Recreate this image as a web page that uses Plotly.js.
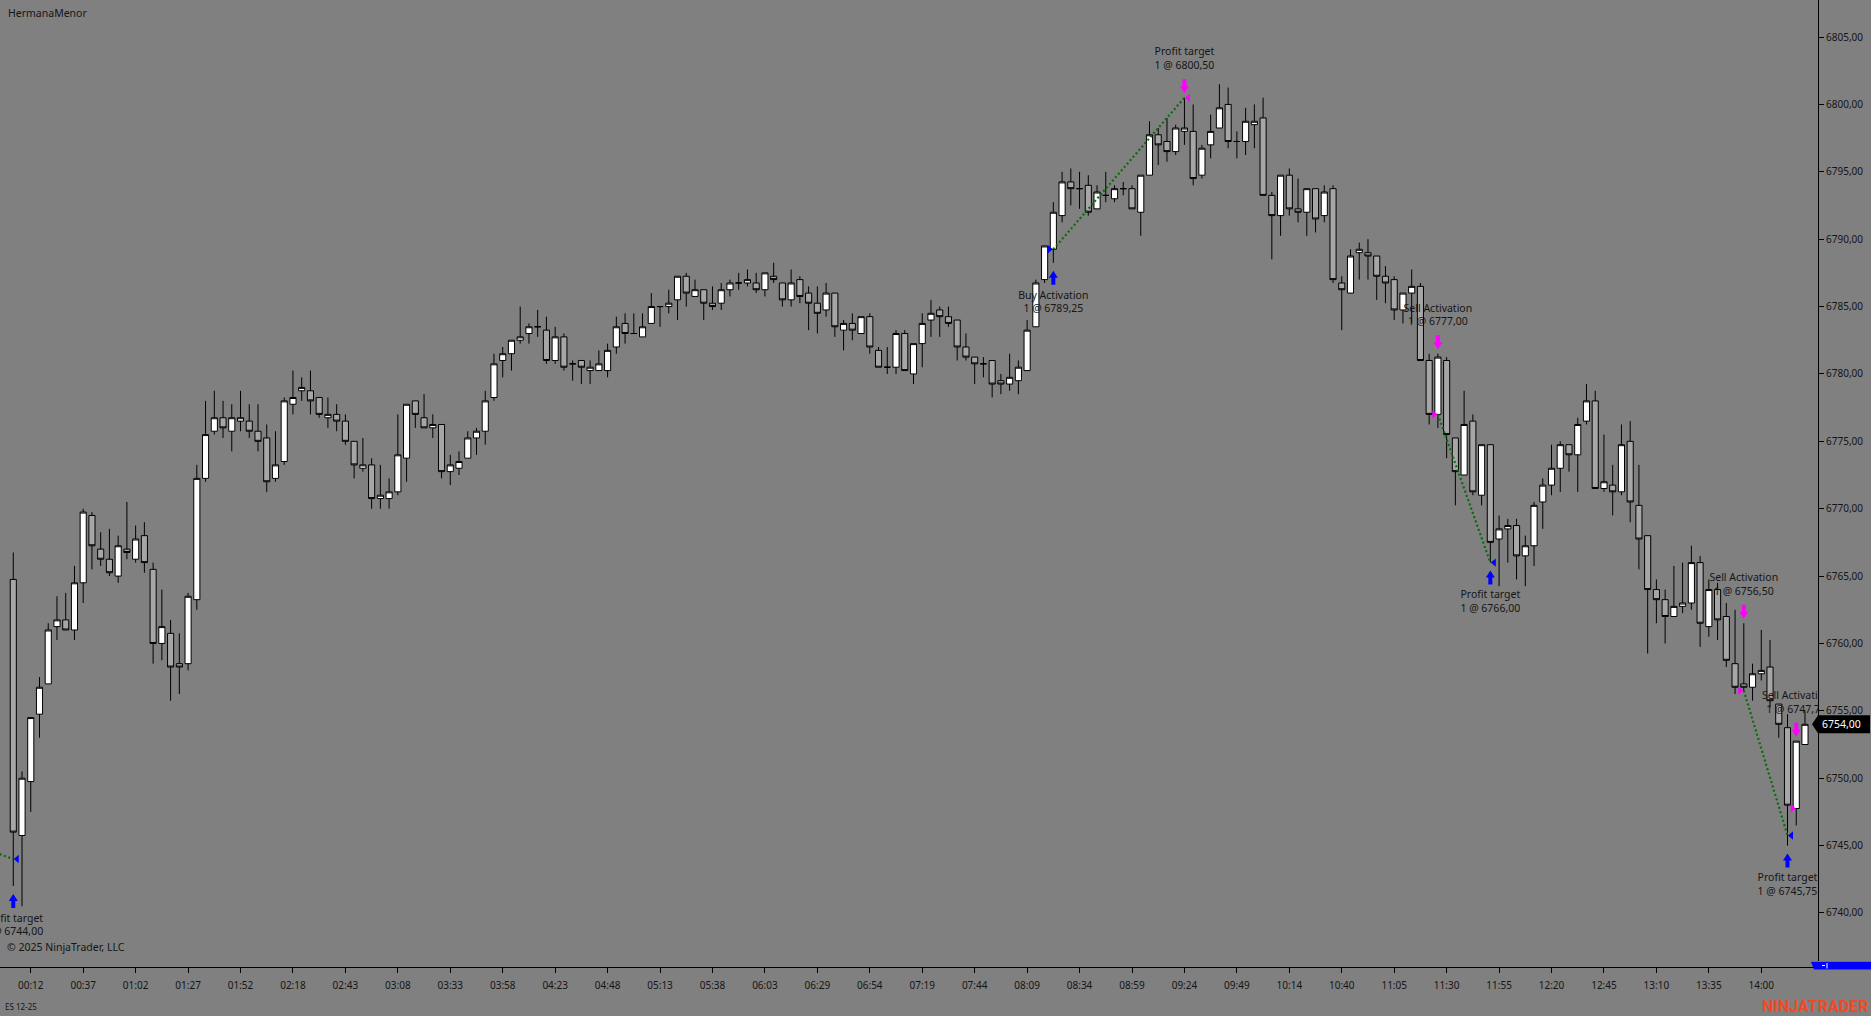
<!DOCTYPE html>
<html>
<head>
<meta charset="utf-8">
<script src="https://cdn.plot.ly/plotly-3.0.1.min.js"></script>
<style>
html,body{margin:0;padding:0;background:#808080;overflow:hidden}
#chart{width:1871px;height:1016px}
</style>
</head>
<body>
<div id="chart"></div>
<script>
// ---------- DATA ----------
const opens = [
6764.75,6745.75,6749.75,6754.75,6757,6761.25,6761.75,6761,6764.5,6769.5,
6767,6766.25,6765,6767,6766.25,6768,6765.5,6760,6760.75,6758.5,
6758.5,6763.25,6772.25,6775.75,6776.75,6775.75,6776.5,6776.5,6775.75,6775.25,
6772.25,6773.5,6777.75,6778.75,6778.75,6778.25,6776.75,6777,6776.5,6775,
6773,6773.25,6770.75,6770.75,6771.25,6773.75,6778,6776.75,6776,6776.25,
6772.75,6773,6773.75,6775.25,6775.75,6778.25,6781,6781.5,6782.5,6783,
6783.5,6783.25,6781,6782.75,6780.75,6781,6780.25,6780.25,6780.25,6782,
6783.75,6783,6782.75,6783.75,6785,6785,6785.5,6787.25,6785.75,6786.25,
6785.25,6785.25,6786.25,6786.75,6786.75,6786.75,6786.25,6787.25,6786.75,6785.5,
6787,6786,6785.25,6784.75,6786,6783.25,6783.75,6783,6784.25,6781.75,
6780.5,6780.5,6783,6780,6782.25,6784,6784.75,6784.25,6784,6782,
6781.25,6780.75,6781,6779.5,6779.25,6779.5,6780.25,6783.5,6787,6789.25,
6791.75,6794.25,6793.75,6794,6792.25,6793.25,6793,6793.75,6793.75,6792,
6794.75,6797.75,6797.25,6796.5,6798,6798,6794.75,6797,6798.25,6800,
6797.25,6797.25,6798.5,6799,6793.25,6791.75,6794.75,6792.25,6792,6793.75,
6791.75,6793.75,6786.75,6786,6789,6789,6788.75,6787.25,6787,6784.75,
6786,6786.5,6781,6777,6781,6775.25,6772.5,6776.5,6771,6774.75,
6767.75,6768.5,6768.75,6766.5,6767.25,6770.5,6771.75,6773,6774.75,6774,
6776.5,6778,6771.5,6771.75,6771.25,6775,6770.25,6768,6764,6763.25,
6762,6762.75,6763,6766,6761.25,6764,6762,6758.5,6757,6756.75,
6757.75,6758.25,6755.5,6753.75,6747.75,6752.5
];
const highs = [
6766.75,6750.5,6754.5,6757.5,6761.5,6763.5,6763.75,6765.75,6770,6769.75,
6768.25,6768.5,6768,6770.5,6768.75,6769,6766,6764,6761.75,6760.75,
6763.75,6773.25,6778,6778.75,6778,6777.75,6778.75,6777.75,6777.75,6776.25,
6775.75,6778.25,6780.25,6779.75,6780.25,6778.25,6778.25,6777.75,6777,6775,
6775.25,6773.75,6773.25,6772.25,6777,6777.75,6778,6778.5,6777,6776.25,
6774,6774.25,6775.75,6776,6778.75,6781.5,6782,6782.5,6785,6783.75,
6784.75,6784.25,6783.5,6783,6781,6781,6781,6781.75,6782.25,6784.25,
6784.5,6784.5,6784.5,6786,6785,6786.25,6787.25,6787.5,6787,6786.25,
6786.5,6786.75,6787,6787.5,6787.75,6787.5,6787.5,6788.25,6786.75,6787.75,
6787.25,6786.5,6786.5,6786.75,6786,6784,6784.5,6784.25,6784.5,6782,
6782,6783.25,6783.25,6782.25,6784.5,6785.5,6785,6785,6784,6783,
6781.25,6781.25,6781,6780,6781.5,6781,6784,6787,6789.5,6792.75,
6795,6795.25,6795,6794.75,6794,6795,6794,6794.25,6794,6794.75,
6798.75,6798.25,6799,6798.5,6800.5,6800,6797,6799.25,6801.5,6801.25,
6798,6799.75,6800,6800.5,6793.5,6794.75,6795.25,6794.5,6793.75,6793.75,
6794,6794,6787.25,6789.25,6789.75,6790,6788.75,6788,6787.25,6786,
6787.75,6786.75,6781.5,6781.5,6781.25,6775.25,6778.75,6777,6774.75,6774.75,
6769.5,6769.25,6769.25,6768,6770.5,6772.25,6774.75,6775,6774.75,6776.75,
6779.25,6778.75,6775.5,6773.25,6776.25,6776.5,6773.25,6768,6764.75,6764,
6765.75,6766,6767.25,6766.5,6764.75,6764.5,6763,6762.5,6761.5,6758.5,
6761,6760.25,6755.5,6754.75,6752.75,6755
];
const lows = [
6742,6740.5,6747.5,6753,6757,6760.25,6761,6760.25,6763,6765.5,
6765.75,6765,6764.5,6766.25,6766,6765.25,6758.5,6758.75,6755.75,6756.25,
6758,6762.5,6772,6775.5,6775.25,6774.25,6775.75,6775.25,6774.25,6771.25,
6772,6773.25,6777,6778,6777,6776.75,6776,6775.75,6774.75,6772.25,
6772.75,6770,6770,6770,6771,6772,6776,6776,6775.25,6772.25,
6771.75,6772.5,6773.75,6774,6774.75,6778,6779.75,6780.25,6782.25,6782.25,
6782.75,6780.75,6780.75,6780.25,6779.5,6779.25,6779.25,6780.25,6779.75,6781.5,
6782.25,6783,6782.75,6783.75,6783.5,6784.5,6784,6785,6785.75,6784,
6784.75,6784.75,6785.75,6786.25,6786.5,6786,6785.75,6786.75,6785,6785,
6785.25,6783.25,6783,6784.25,6782.75,6781.75,6782.5,6783,6781.5,6780.5,
6780,6780,6780.25,6779.25,6780.5,6782.75,6782.75,6783.5,6781,6781,
6779.25,6779.75,6778.25,6778.5,6778.75,6778.5,6780.25,6783.5,6786.75,6788.25,
6791.25,6792.5,6792.25,6791.75,6792.25,6792.75,6792.75,6793.25,6792.25,6790.25,
6794.75,6795.5,6795.75,6796.25,6797,6794,6794.5,6796,6798.25,6796.75,
6796,6796.25,6796.75,6793.25,6788.5,6790.25,6791.75,6791.25,6790.25,6790.5,
6791.25,6786.75,6783.25,6786,6787,6787,6785.5,6785.25,6784,6783.75,
6783.75,6781,6776.25,6776,6773.75,6770.25,6772.5,6771,6770.25,6766,
6764.25,6766,6764.75,6764.25,6765.75,6768.5,6771,6771.25,6772.75,6771.25,
6776.25,6771.5,6771.25,6769.5,6771,6769,6765.5,6759.25,6761.5,6760,
6762,6762.25,6762.5,6759.75,6760.5,6760.25,6758.25,6756.25,6756.5,6755.75,
6757.25,6755.25,6753,6745,6746.5,6752.5
];
const closes = [
6746,6750,6754.5,6756.75,6761,6761.75,6761,6764.5,6769.75,6767.25,
6766.25,6765.25,6767.25,6766.75,6767.75,6766,6760,6761.25,6758.25,6758.25,
6763.5,6772.25,6775.5,6776.75,6776,6776.75,6776.75,6775.75,6775,6772,
6773.25,6778,6778.25,6779,6778,6777,6777,6776.5,6775,6773.25,
6773.25,6770.75,6771,6771.25,6774,6777.75,6777,6776,6776.25,6772.75,
6773.25,6773.5,6775.25,6775.75,6778,6780.75,6781.5,6782.5,6782.75,6783.5,
6783.5,6781,6782.75,6780.5,6780.75,6780.5,6780.5,6780.75,6781.75,6783.5,
6783,6783,6783.5,6785,6785,6785.25,6787.25,6786,6786.25,6785.25,
6785,6786.25,6786.75,6786.75,6787,6786.25,6787.5,6787,6785.5,6786.75,
6785.75,6785.25,6784.5,6786,6783.5,6783.75,6783.25,6784.25,6782,6780.5,
6780.5,6783,6780.25,6782.25,6783.75,6784.5,6784.25,6783.75,6782,6781.25,
6780.75,6780.75,6779.25,6779.25,6779.75,6780.5,6783.25,6786.75,6789.5,6792,
6794.25,6793.75,6793.75,6792,6793.5,6793.25,6793.75,6793.75,6792.25,6794.75,
6797.75,6797,6796.5,6798.25,6798.25,6794.5,6796.75,6798,6799.75,6797.25,
6797.25,6798.75,6798.75,6793.25,6791.75,6794.75,6792.25,6792,6793.75,6791.5,
6793.5,6787,6786.25,6788.75,6789.25,6788.75,6787.25,6786.75,6784.75,6786,
6786.5,6781,6777,6781.25,6775.5,6772.75,6776.25,6771.25,6774.75,6767.5,
6768.5,6768.75,6766.5,6767.25,6770.25,6771.75,6773,6774.75,6774,6776.25,
6778,6771.5,6772,6771.25,6774.75,6770.5,6767.75,6764,6763.25,6762,
6762.75,6763,6766,6761.5,6764,6761.75,6758.75,6756.75,6756.75,6757.75,
6758,6755.75,6754,6748,6752.75,6754
];

// time axis: a label every 6 bars
const timeTickBars = [2,8,14,20,26,32,38,44,50,56,62,68,74,80,86,92,98,104,110,116,122,128,134,140,146,152,158,164,170,176,182,188,194,200];
const timeTickLabels = ["00:12","00:37","01:02","01:27","01:52","02:18","02:43","03:08","03:33","03:58","04:23","04:48","05:13","05:38","06:03","06:29","06:54","07:19","07:44","08:09","08:34","08:59","09:24","09:49","10:14","10:40","11:05","11:30","11:55","12:20","12:45","13:10","13:35","14:00"];
const priceTicks = [6740,6745,6750,6755,6760,6765,6770,6775,6780,6785,6790,6795,6800,6805];

// executions shown on the chart
const execBars   = [0, 119, 134, 163, 169, 198, 203, 204];
const execPrices = [6744, 6789.25, 6800.5, 6777, 6766, 6756.5, 6745.75, 6747.75];
const execSides  = ['buy','buy','sell','sell','buy','sell','buy','sell'];
const execKinds  = ['exit','entry','exit','entry','exit','entry','exit','entry'];
const execNames  = ['Profit target','Buy Activation','Profit target','Sell Activation','Profit target','Sell Activation','Profit target','Sell Activation'];

// trade connector lines (entry -> exit)
const tradeEntryBars   = [-18, 119, 163, 198];
const tradeEntryPrices = [6748.25, 6789.25, 6777, 6756.5];
const tradeExitBars    = [0, 134, 169, 203];
const tradeExitPrices  = [6744, 6800.5, 6766, 6745.75];

const chartTitle = 'HermanaMenor';
const instrument = 'ES 12-25';
const copyrightText = '\u00a9 2025 NinjaTrader, LLC';

// ---------- LAYOUT GEOMETRY ----------
const W = 1871, H = 1016;
const M = {l: 0, r: 53, t: 0, b: 49};
const plotH = H - M.t - M.b;
const xRange = [-1.52, 206.49];
const yRange = [6735.99, 6807.75];
const pxPerPt = plotH / (yRange[1] - yRange[0]);
const fmt = v => v.toFixed(2).replace('.', ',');
const BLUE = '#0000ff', MAGENTA = '#ff00ff';
const FONT = 'Noto Sans, Open Sans, sans-serif';

const barIdx = opens.map((_, i) => i);

const traces = [];
traces.push({
  type: 'candlestick',
  x: barIdx, open: opens, high: highs, low: lows, close: closes,
  increasing: {line: {color: '#000', width: 1}, fillcolor: '#ffffff'},
  decreasing: {line: {color: '#000', width: 1}, fillcolor: '#a6a6a6'},
  whiskerwidth: 0,
  hoverinfo: 'skip'
});

// dotted trade lines
for (let k = 0; k < tradeEntryBars.length; k++) {
  traces.push({
    type: 'scatter', mode: 'lines',
    x: [tradeEntryBars[k], tradeExitBars[k]],
    y: [tradeEntryPrices[k], tradeExitPrices[k]],
    line: {color: '#0c6a0c', width: 2.2, dash: '2px,2.5px'},
    hoverinfo: 'skip'
  });
}

// execution labels (clipped to the plot area like the original)
const labX = [], labY = [], labT = [];
execBars.forEach((b, k) => {
  labX.push(b);
  if (execSides[k] === 'buy') labY.push(lows[b] - 40 / pxPerPt);
  else labY.push(highs[b] + 38 / pxPerPt);
  labT.push(execNames[k] + '<br>1 @ ' + fmt(execPrices[k]));
});
traces.push({
  type: 'scatter', mode: 'text', x: labX, y: labY, text: labT,
  textposition: 'middle center', cliponaxis: true,
  textfont: {family: FONT, size: 10.5, color: '#151515'},
  hoverinfo: 'skip'
});

// shapes: arrows and execution triangles
const shapes = [];
const UP_ARROW   = 'M0,-8 L4.5,-15 L2,-15 L2,-22 L-2,-22 L-2,-15 L-4.5,-15 Z';
const DOWN_ARROW = 'M0,4.5 L4.5,11.5 L2,11.5 L2,18.5 L-2,18.5 L-2,11.5 L-4.5,11.5 Z';
const TRI_ENTRY  = 'M-5.5,4.2 L-5.5,-4.2 L-0.5,0 Z';
const TRI_EXIT   = 'M5.5,4.2 L5.5,-4.2 L0.5,0 Z';
execBars.forEach((b, k) => {
  const buy = execSides[k] === 'buy';
  const col = buy ? BLUE : MAGENTA;
  shapes.push({
    type: 'path', xref: 'x', yref: 'y', xsizemode: 'pixel', ysizemode: 'pixel',
    xanchor: b, yanchor: buy ? lows[b] : highs[b],
    path: buy ? UP_ARROW : DOWN_ARROW,
    fillcolor: col, line: {width: 0}
  });
  shapes.push({
    type: 'path', xref: 'x', yref: 'y', xsizemode: 'pixel', ysizemode: 'pixel',
    xanchor: b, yanchor: execPrices[k],
    path: execKinds[k] === 'entry' ? TRI_ENTRY : TRI_EXIT,
    fillcolor: col, line: {width: 0}
  });
});

// last price marker on the price axis
const lastClose = closes[closes.length - 1];
shapes.push({
  type: 'path', xref: 'paper', yref: 'y', xsizemode: 'pixel', ysizemode: 'pixel',
  xanchor: 1, yanchor: lastClose,
  path: 'M-6,0 L0,9 L52,9 L52,-9 L0,-9 Z',
  fillcolor: '#000', line: {width: 0}
});
// scroll box at bottom right
shapes.push({
  type: 'path', xref: 'paper', yref: 'paper', xsizemode: 'pixel', ysizemode: 'pixel',
  xanchor: 1, yanchor: 0,
  path: 'M-7,5 L53,5 L53,-2.5 L-4,-2.5 Z',
  fillcolor: '#0000ff', line: {width: 0}
});
shapes.push({
  type: 'path', xref: 'paper', yref: 'paper', xsizemode: 'pixel', ysizemode: 'pixel',
  xanchor: 1, yanchor: 0,
  path: 'M-7,5.5 L53,5.5',
  line: {color: '#ff3030', width: 1}
});
shapes.push({
  type: 'path', xref: 'paper', yref: 'paper', xsizemode: 'pixel', ysizemode: 'pixel',
  xanchor: 1, yanchor: 0,
  path: 'M4,1.5 L7,1.5 M9,4 L9,-1.5',
  line: {color: '#ffffff', width: 1}
});

const annotations = [
  {xref: 'paper', yref: 'paper', x: 0, xshift: 6, y: 1 - 13 / plotH, xanchor: 'left', yanchor: 'middle',
   text: chartTitle, showarrow: false, font: {family: FONT, size: 10.5, color: '#151515'}},
  {xref: 'paper', yref: 'paper', x: 0, xshift: 5, y: 20 / plotH, xanchor: 'left', yanchor: 'middle',
   text: copyrightText, showarrow: false, font: {family: FONT, size: 10.5, color: '#151515'}},
  {xref: 'paper', yref: 'paper', x: 0, xshift: 3, y: -39 / plotH, xanchor: 'left', yanchor: 'middle',
   text: instrument, showarrow: false, font: {family: FONT, size: 8, color: '#151515'}},
  {xref: 'paper', yref: 'paper', x: 1, xshift: 52, y: -39 / plotH, xanchor: 'right', yanchor: 'middle',
   text: '<b>NINJATRADER</b>', showarrow: false, font: {family: 'Roboto, sans-serif', size: 16, color: '#f04a26'}},
  {xref: 'paper', yref: 'y', x: 1, xshift: 2, y: lastClose, xanchor: 'left', yanchor: 'middle',
   text: fmt(lastClose), showarrow: false, font: {family: FONT, size: 10.5, color: '#ffffff'}}
];

const layout = {
  width: W, height: H,
  margin: {l: M.l, r: M.r, t: M.t, b: M.b, pad: 0},
  paper_bgcolor: '#808080', plot_bgcolor: '#808080',
  showlegend: false, hovermode: false, dragmode: false,
  boxgap: 0.3, boxgroupgap: 0,
  font: {family: FONT, size: 10.5, color: '#151515'},
  xaxis: {
    range: xRange, fixedrange: true, showgrid: false, zeroline: false,
    rangeslider: {visible: false},
    tickmode: 'array', tickvals: timeTickBars, ticktext: timeTickLabels,
    ticks: 'outside', ticklen: 5, tickwidth: 1, tickcolor: '#000',
    showline: true, linecolor: '#000', linewidth: 1,
    tickfont: {family: FONT, size: 10, color: '#151515'},
    ticklabelstandoff: 4
  },
  yaxis: {
    side: 'right', range: yRange, fixedrange: true, showgrid: false, zeroline: false,
    tickmode: 'array', tickvals: priceTicks, ticktext: priceTicks.map(fmt),
    ticks: 'outside', ticklen: 5, tickwidth: 1, tickcolor: '#000',
    showline: true, linecolor: '#000', linewidth: 1,
    tickfont: {family: FONT, size: 10, color: '#151515'}
  },
  shapes: shapes,
  annotations: annotations
};

Plotly.newPlot('chart', traces, layout, {displayModeBar: false, staticPlot: true});
</script>
</body>
</html>
